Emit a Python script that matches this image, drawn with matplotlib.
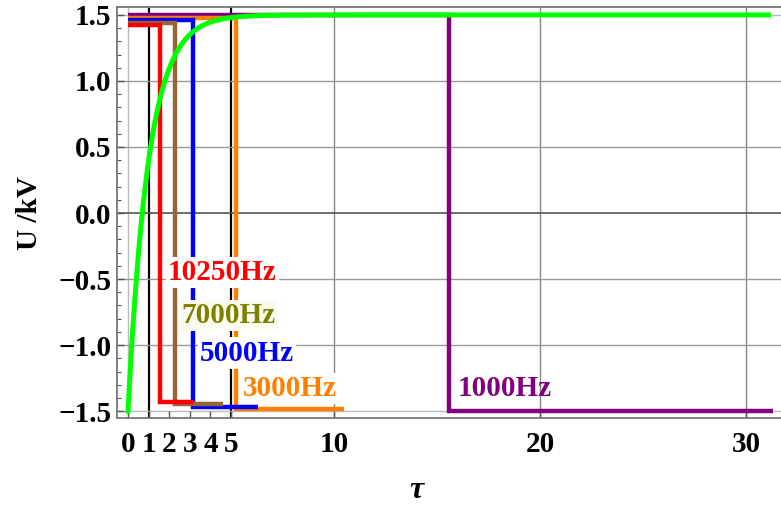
import numpy as np
import matplotlib
matplotlib.use('Agg')
import matplotlib.pyplot as plt
from matplotlib.ticker import MultipleLocator

plt.rcParams['font.family'] = ['Liberation Serif', 'DejaVu Serif']
plt.rcParams['font.weight'] = 'bold'

# square-wave responses, one per drive frequency
freqs     = [1000, 3000, 5000, 7000, 10250]
colors    = ['#800080', '#ff8000', '#0000ff', '#996633', '#ff0000']
lbl_cols  = ['#800080', '#ff8000', '#0000ff', '#808000', '#ff0000']
switch_t  = [15.6, 5.24, 3.14, 2.28, 1.55]
end_t     = [31.3, 10.5, 6.3, 4.6, 3.15]
u_high    = [1.497, 1.48, 1.462, 1.437, 1.424]
u_low     = [-1.5, -1.485, -1.47, -1.447, -1.43]
lbl_t     = [16.0, 5.55, 3.5, 2.6, 1.94]
lbl_u     = [-1.33, -1.33, -1.06, -0.773, -0.447]

# charging curve U = 1.5 - 3 exp(-tau)
tau = np.linspace(0, 31.1, 600)
u_charge = 1.5 - 3.0 * np.exp(-tau)

fig = plt.figure(figsize=(7.81, 5.07), dpi=100)
ax = fig.add_axes([117/781, 89/507, 672/781, 411/507])
ax.set_xlim(-0.534, 32.09)
ax.set_ylim(-1.552, 1.56)

# grid
ax.axvline(0, color='#bbbbbb', lw=1.0, zorder=1)
for x in [10, 20, 30]:
    ax.axvline(x, color='#888888', lw=1.0, zorder=1)
for x in [1, 5]:
    ax.axvline(x, color='black', lw=1.6, zorder=1)
for y in [-1.0, -0.5, 0.5, 1.0]:
    ax.axhline(y, color='#999999', lw=1.0, zorder=1)
for y in [-1.5, 1.5]:
    ax.axhline(y, color='#bbbbbb', lw=1.0, zorder=1)
ax.axhline(0, color='#555555', lw=1.2, zorder=1)

for f, c, lc, ts, te, uh, ul, lt, lu in zip(freqs, colors, lbl_cols, switch_t, end_t,
                                            u_high, u_low, lbl_t, lbl_u):
    ax.plot([0, ts, ts, te], [uh, uh, ul, ul], color=c, lw=3.2, zorder=2,
            solid_joinstyle='miter', solid_capstyle='butt')
    bg = '#fafaee' if f == 7000 else 'white'
    box = None if f == 1000 else dict(facecolor=bg, edgecolor='none', pad=1.5)
    ax.text(lt, lu, f'{f}Hz', color=lc, fontsize=21, fontweight='bold',
            ha='left', va='center', bbox=box, zorder=4)

ax.plot(tau, u_charge, color='#00ff00', lw=3.6, zorder=3)

ax.set_xticks([0, 1, 2, 3, 4, 5, 10, 20, 30])
ax.yaxis.set_minor_locator(MultipleLocator(0.1))
ax.set_yticks([-1.5, -1.0, -0.5, 0.0, 0.5, 1.0, 1.5])
ax.set_yticklabels(['\u22121.5', '\u22121.0', '\u22120.5', '0.0', '0.5', '1.0', '1.5'])
ax.tick_params(axis='both', which='major', direction='in', length=5, width=1,
               color='#555555', labelsize=21, pad=4)
ax.tick_params(axis='x', which='major', pad=9)
ax.tick_params(axis='y', which='minor', direction='in', length=3, width=0.8, color='#555555')
for lab in ax.get_xticklabels() + ax.get_yticklabels():
    lab.set_fontweight('bold')
for sp in ax.spines.values():
    sp.set_color('#777777')
    sp.set_linewidth(1.3)

fig.text(30/781, 1 - 213/507, 'U /kV', rotation=90, ha='center', va='center',
         fontsize=21, fontweight='bold')
fig.text(416/781, 1 - 490/507, '\u03c4', ha='center', va='center',
         fontsize=23, fontweight='bold', style='italic')

fig.savefig('out.png', dpi=100)
